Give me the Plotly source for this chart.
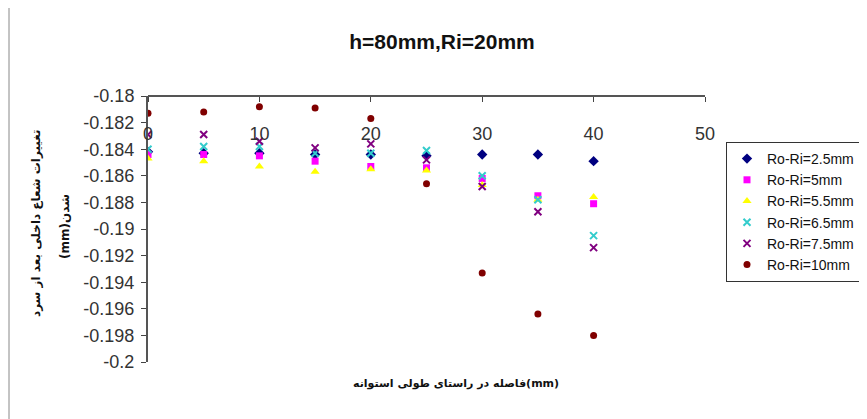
import plotly.graph_objects as go

x_pos = [0, 5, 10, 15, 20, 25, 30, 35, 40]

s_2_5 = [-0.1842, -0.1843, -0.1843, -0.1844, -0.1844, -0.1845, -0.1844, -0.1844, -0.1849]
s_5 = [-0.1844, -0.1844, -0.1845, -0.1849, -0.1853, -0.1854, -0.1862, -0.1875, -0.1881]
s_5_5 = [-0.1847, -0.1849, -0.1853, -0.1857, -0.1855, -0.1856, -0.1867, -0.1878, -0.1876]
s_6_5 = [-0.1840, -0.1838, -0.1838, -0.1843, -0.1843, -0.1841, -0.1860, -0.1878, -0.1905]
s_7_5 = [-0.1829, -0.1829, -0.1834, -0.1839, -0.1836, -0.1848, -0.1868, -0.1887, -0.1914]
s_10 = [-0.1813, -0.1812, -0.1808, -0.1809, -0.1817, -0.1866, -0.1933, -0.1964, -0.1980]

names = ["Ro-Ri=2.5mm", "Ro-Ri=5mm", "Ro-Ri=5.5mm", "Ro-Ri=6.5mm", "Ro-Ri=7.5mm", "Ro-Ri=10mm"]

y_tick_vals = [-0.18, -0.182, -0.184, -0.186, -0.188, -0.19, -0.192, -0.194, -0.196, -0.198, -0.2]
y_tick_text = ["-0.18", "-0.182", "-0.184", "-0.186", "-0.188", "-0.19", "-0.192", "-0.194", "-0.196", "-0.198", "-0.2"]
x_tick_vals = [0, 10, 20, 30, 40, 50]
x_tick_text = ["0", "10", "20", "30", "40", "50"]

title_text = "h=80mm,Ri=20mm"
x_title_words = ["فاصله", "در", "راستای", "طولی", "استوانه"]
x_title_unit = "(mm)"
y_title_1 = "تغییرات شعاع داخلی بعد از سرد"
y_title_2 = "شدن(mm)"

LRE, RLE, PDF = "\u202a", "\u202b", "\u202c"
# the reference shows the x-title words laid out left to right
x_title = LRE + " ".join(RLE + w + PDF for w in x_title_words) + x_title_unit + PDF
y_title_2_disp = RLE + y_title_2 + PDF

styles = [
    dict(symbol="diamond", color="#000080", size=8),
    dict(symbol="square", color="#FF00FF", size=7),
    dict(symbol="triangle-up", color="#FFFF00", size=8),
    dict(symbol="x-thin-open", color="#33CCCC", size=7, line=dict(width=2, color="#33CCCC")),
    dict(symbol="x-thin-open", color="#800080", size=7, line=dict(width=2, color="#800080")),
    dict(symbol="circle", color="#800000", size=7),
]

series = [s_2_5, s_5, s_5_5, s_6_5, s_7_5, s_10]

fig = go.Figure()
for name, ys, st in zip(names, series, styles):
    marker = dict(symbol=st["symbol"], color=st["color"], size=st["size"])
    if "line" in st:
        marker["line"] = st["line"]
    else:
        marker["line"] = dict(width=0)
    fig.add_trace(go.Scatter(x=x_pos, y=ys, mode="markers", name=name, marker=marker))

# page body has an 8px margin; figure sized so it fits in the window
OFF = 8
W, H = 867 - OFF, 419 - OFF
PL, PR, PT, PB = 148, 705, 96, 362  # plot area in screen pixels
L, T = PL - OFF, PT - OFF
R, B = W - (PR - OFF), H - (PB - OFF)
pw, ph = PR - PL, PB - PT

def px_x(s):
    return (s - PL) / pw

def px_y(s):
    return (PB - s) / ph

fig.update_layout(
    width=W, height=H,
    margin=dict(l=L, r=R, t=T, b=B, autoexpand=False),
    paper_bgcolor="white", plot_bgcolor="white",
    font=dict(family="Liberation Sans, Arial, sans-serif", color="#222222"),
    title=dict(text="<b>" + title_text + "</b>", x=px_x(442), xref="paper", xanchor="center",
               y=1 - (42 - OFF) / H, yanchor="middle", font=dict(size=21, color="#111111")),
    xaxis=dict(range=[0, 50], side="bottom", anchor="free", position=1,
               tickvals=x_tick_vals, ticktext=x_tick_text,
               ticks="outside", ticklen=5, tickcolor="#444444", ticklabelstandoff=16,
               showline=True, linecolor="#555555", linewidth=2, showgrid=False, zeroline=False,
               tickfont=dict(size=18, color="#333333")),
    yaxis=dict(range=[-0.2, -0.18], tickvals=y_tick_vals, ticktext=y_tick_text,
               ticks="outside", ticklen=5, tickcolor="#444444", ticklabelstandoff=3,
               showline=True, linecolor="#555555", linewidth=2, showgrid=False, zeroline=False,
               tickfont=dict(size=18, color="#333333")),
    legend=dict(x=px_x(726), y=px_y(142), xanchor="left", yanchor="top",
                bordercolor="#333333", borderwidth=1, bgcolor="white",
                font=dict(size=14, color="#111111"), tracegroupgap=0),
    showlegend=True,
)

fig.add_annotation(text="<b>" + x_title + "</b>", xref="paper", yref="paper",
                   x=px_x(456), y=px_y(383), xanchor="center", yanchor="middle", showarrow=False,
                   font=dict(family="DejaVu Sans", size=11, color="#111111"))
fig.add_annotation(text="<b>" + y_title_1 + "</b>", xref="paper", yref="paper",
                   x=px_x(36), y=px_y(223), xanchor="center", yanchor="middle",
                   showarrow=False, textangle=-90,
                   font=dict(family="DejaVu Sans", size=12, color="#111111"))
fig.add_annotation(text="<b>" + y_title_2_disp + "</b>", xref="paper", yref="paper",
                   x=px_x(65), y=px_y(227), xanchor="center", yanchor="middle",
                   showarrow=False, textangle=-90,
                   font=dict(family="DejaVu Sans", size=12, color="#111111"))

# left edge of the chart frame
fig.add_shape(type="line", xref="paper", yref="paper",
              x0=px_x(9), x1=px_x(9), y0=px_y(420), y1=px_y(0),
              line=dict(color="#888888", width=1), layer="above")

fig.write_html("out.html")
